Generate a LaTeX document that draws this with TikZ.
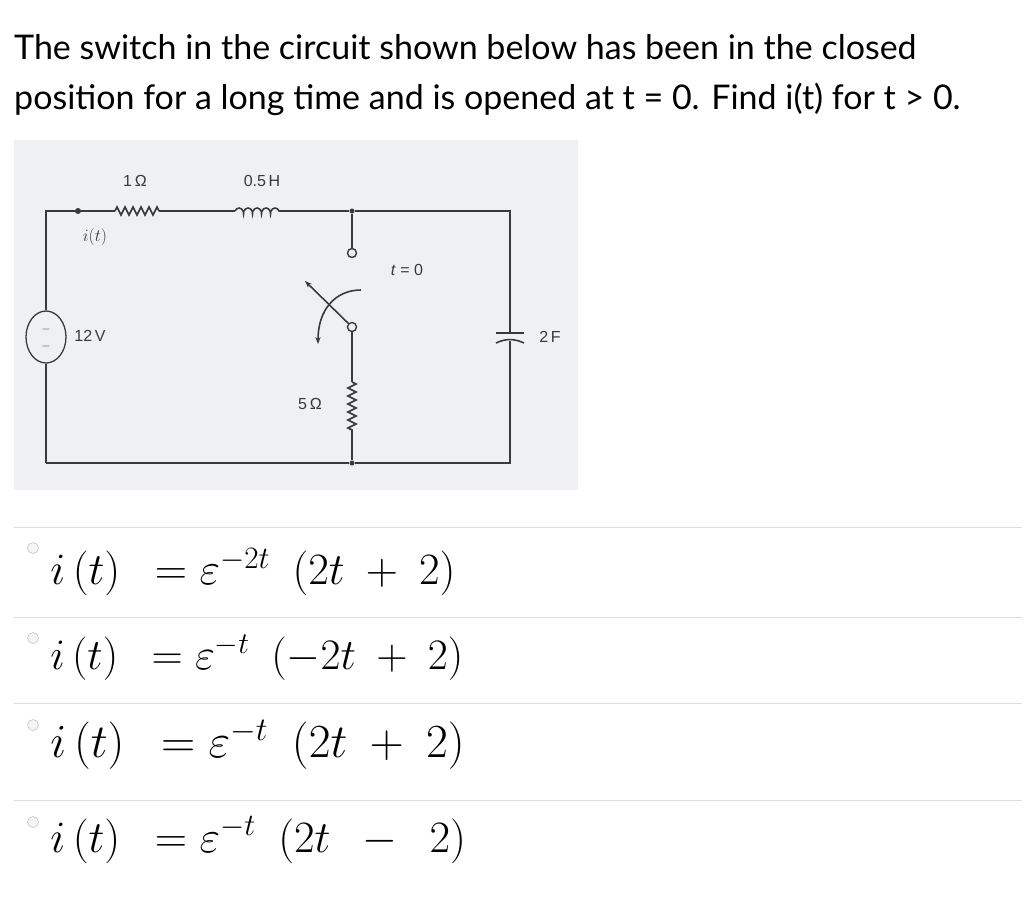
\documentclass[tikz,border=0pt]{standalone}
\usepackage{fontspec}
\setmainfont{Lato}
\newfontfamily\cfont{Liberation Sans}
\usepackage{amsmath}
\usetikzlibrary{arrows.meta,decorations.pathmorphing,shapes.geometric}
\definecolor{wire}{HTML}{3A3A3A}
\definecolor{bgc}{HTML}{EEF0F3}
\definecolor{sep}{HTML}{DDDDDD}
\tikzset{x=1pt,y=-1pt,
  w/.style={draw=wire,line width=1.6pt},
  res/.style={w,decorate,decoration={zigzag,segment length=8pt,amplitude=4pt}},
  ind/.style={w,decorate,decoration={coil,aspect=0.6,segment length=9pt,amplitude=3pt}},
  lbl/.style={font=\cfont\fontsize{16}{18}\selectfont,text=wire,inner sep=1pt},
  ttl/.style={anchor=west,font=\fontsize{34}{40}\selectfont,inner sep=0pt},
  eq/.style={anchor=west,font=\fontsize{24}{28}\selectfont,inner sep=0pt,scale=1.8},
  radio/.style={draw=gray!60,fill=gray!8,circle,minimum size=11pt,inner sep=0pt},
  dot/.style={circle,fill=wire,minimum size=5pt,inner sep=0pt},
  open/.style={circle,draw=wire,line width=1.4pt,fill=bgc,minimum size=9pt,inner sep=0pt}}
\begin{document}
\begin{tikzpicture}
\useasboundingbox (0,0) rectangle (1024,900);
\fill[white] (0,0) rectangle (1024,900);
\node[ttl] (t1) at (14,47) {The switch in the circuit shown below has been in the closed};
\node[ttl] (t2) at (14,99) {position for a long time and is opened at t = 0. Find i(t) for t > 0.};
\fill[bgc] (14,140) rectangle (578,490);
% nodes
\coordinate (tl) at (46,211);
\coordinate (bl) at (46,463);
\coordinate (tr) at (510,211);
\coordinate (br) at (510,463);
\node[dot] (js) at (352,211) {};
\node[dot] (jb) at (352,463) {};
\node[draw=wire,line width=1.3pt,ellipse,minimum width=40pt,minimum height=52pt,fill=bgc] (src) at (46,337) {};
\coordinate (r1a) at (115,211); \coordinate (r1b) at (159,211);
\coordinate (l1a) at (235,211); \coordinate (l1b) at (288,211);
\node[open] (s1) at (352,253) {};
\node[open] (s2) at (352,327) {};
\coordinate (r5a) at (352,382); \coordinate (r5b) at (352,433);
\coordinate (ca) at (510,333); \coordinate (cb) at (510,341);
% wires
\draw[w] (bl) -- (src.south);
\draw[w] (src.north) -- (tl) -- (r1a);
\draw[res] (r1a) -- (r1b);
\draw[w] (r1b) -- (l1a);
\draw[ind] (l1a) -- (l1b);
\draw[w] (l1b) -- (js) -- (tr) -- (ca);
\draw[w] (js) -- (s1);
\draw[w] (s2) -- (r5a);
\draw[res] (r5a) -- (r5b);
\draw[w] (r5b) -- (jb);
\draw[w] (cb) -- (br) -- (jb) -- (bl);
\draw[w] (496,333) -- (524,333);
\draw[w] (496,343) to[bend left=25] (524,343);
\draw[w,-{Stealth[length=7pt]}] (s2) -- (305,281);
\draw[w,-{Stealth[length=7pt]}] (361,290) .. controls (335,290) and (318,310) .. (318,344);
\fill[wire] (78,211) circle (3pt);
\node[wire,font=\fontsize{12}{14}\selectfont] at (46,329) {$-$};
\node[wire,font=\fontsize{12}{14}\selectfont] at (46,346) {$-$};
% labels
\node[lbl] (l1) at (135,181) {1\,Ω};
\node[lbl] (l2) at (262,181) {0.5\,H};
\node[lbl,font=\fontsize{16}{18}\selectfont] (l3) at (95,237) {$i(t)$};
\node[lbl] (l4) at (90,336) {12\,V};
\node[lbl] (l5) at (407,270) {\textit{t} = 0};
\node[lbl] (l6) at (310,404) {5\,Ω};
\node[lbl] (l7) at (550,337) {2\,F};
% answers
\foreach \y in {527,617,703,800} \draw[sep,line width=0.8pt] (14,\y) -- (1022,\y);
\node[radio] (o1) at (33,548) {};
\node[radio] (o2) at (33,638) {};
\node[radio] (o3) at (33,725) {};
\node[radio] (o4) at (33,822) {};
\node[eq] (e1) at (50,572) {$i\,(t)\ \ =\varepsilon^{-2t}\ \ (2t\ +\ 2)$};
\node[eq,scale=0.97] (e2) at (50,658) {$i\,(t)\ \ =\varepsilon^{-t}\ \ (-2t\ +\ 2)$};
\node[eq,scale=1.06] (e3) at (50,745) {$i\,(t)\ \ =\varepsilon^{-t}\ \ (2t\ +\ 2)$};
\node[eq] (e4) at (50,840) {$i\,(t)\ \ =\varepsilon^{-t}\ \ (2t\ \ -\ \ 2)$};
\end{tikzpicture}
\end{document}
